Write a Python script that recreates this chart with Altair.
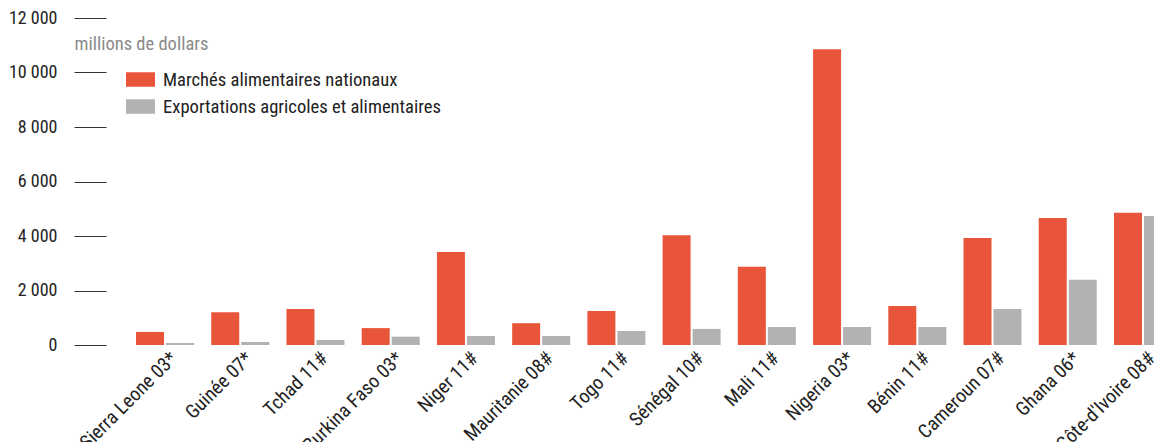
import altair as alt
import pandas as pd

countries = ["Sierra Leone 03*", "Guinée 07*", "Tchad 11#", "Burkina Faso 03*", "Niger 11#",
             "Mauritanie 08#", "Togo 11#", "Sénégal 10#", "Mali 11#", "Nigeria 03*",
             "Bénin 11#", "Cameroun 07#", "Ghana 06*", "Côte-d'Ivoire 08#"]
series = ["Marchés alimentaires nationaux", "Exportations agricoles et alimentaires"]
domestic = [480, 1200, 1320, 620, 3410, 800, 1250, 4030, 2870, 10850, 1430, 3930, 4660, 4850]
exports = [75, 110, 185, 305, 330, 330, 515, 590, 660, 660, 660, 1320, 2390, 4730]
colors = ["#E9553B", "#B2B2B2"]
y_ticks = [0, 2000, 4000, 6000, 8000, 10000, 12000]

rows = []
for c, d, e in zip(countries, domestic, exports):
    rows.append({"pays": c, "serie": series[0], "valeur": d})
    rows.append({"pays": c, "serie": series[1], "valeur": e})
df = pd.DataFrame(rows)

FONT = "Liberation Sans Narrow, Roboto Condensed, DejaVu Sans Condensed, Roboto, sans-serif"

chart = alt.Chart(df).mark_bar(clip=True).encode(
    x=alt.X("pays:N", sort=countries, title=None,
            scale=alt.Scale(range=[0, 1096], paddingInner=0.229, paddingOuter=0.399),
            axis=alt.Axis(labelAngle=-45, labelAlign="right", labelBaseline="middle",
                          labelPadding=10, labelOffset=9, ticks=False, domain=False,
                          labelOverlap=False, labelLimit=300, labelBound=False,
                          labelFontSize=19.5, labelColor="#222222", labelFont=FONT)),
    xOffset=alt.XOffset("serie:N", sort=series,
                        scale=alt.Scale(paddingInner=0.067, paddingOuter=0)),
    y=alt.Y("valeur:Q", scale=alt.Scale(domain=[0, 12000], nice=False),
            title="millions de dollars",
            axis=alt.Axis(values=y_ticks,
                          labelExpr="replace(format(datum.value, ',d'), ',', '\u00a0')",
                          tickSize=32, tickWidth=1.2,
                          tickColor="#333333", labelPadding=17, domain=False, grid=False,
                          labelFontSize=18, labelColor="#222222", labelFont=FONT,
                          titleAngle=0, titleX=-32, titleY=25, titleAlign="left",
                          titleBaseline="middle", titleFontSize=18.5, titleFontWeight="normal",
                          titleColor="#8a8a8a", titleFont=FONT)),
    color=alt.Color("serie:N", sort=series, scale=alt.Scale(domain=series, range=colors),
                    legend=alt.Legend(title=None, orient="none", legendX=20, legendY=47,
                                      symbolType="M-1,-0.5H1V0.5H-1Z", symbolSize=841,
                                      symbolStrokeWidth=0, labelFontSize=18.6, labelColor="#222222",
                                      labelFont=FONT, labelOffset=8, rowPadding=2, padding=0,
                                      labelLimit=500)),
).properties(
    width=1048, height=327,
    autosize=alt.AutoSizeParams(type="none"),
    padding={"left": 98, "top": 10, "right": 0, "bottom": 97},
).configure_view(stroke=None)

chart.save("out.html", embed_options={"renderer": "svg", "actions": False})
